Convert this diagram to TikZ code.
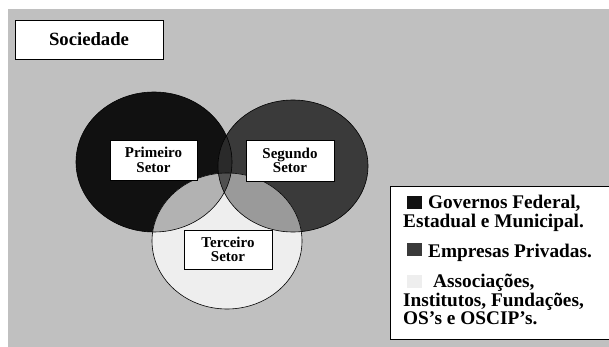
\documentclass[tikz,border=0pt]{standalone}
\usepackage{fontspec}
\setmainfont{Liberation Serif}
\definecolor{bg}{HTML}{C0C0C0}
\definecolor{cone}{HTML}{111111}
\definecolor{ctwo}{HTML}{3A3A3A}
\definecolor{cthree}{HTML}{EEEEEE}
\definecolor{conetwo}{HTML}{2A2A2A}
\definecolor{conethree}{HTML}{B2B2B2}
\definecolor{ctwothree}{HTML}{9A9A9A}
\definecolor{call}{HTML}{505050}
\begin{document}
\begin{tikzpicture}[x=1pt,y=-1pt,
  labelbox/.style={draw=black,line width=0.8pt,fill=white,inner sep=0pt,align=center,
    font=\fontsize{15}{14.5}\selectfont\bfseries},
  legtext/.style={anchor=base west,inner sep=0pt,font=\fontsize{19.3}{19}\selectfont\bfseries},
  legsq/.style={anchor=north west,inner sep=0pt,minimum width=15pt,minimum height=13pt,draw=none},
  ring/.style={draw=black,line width=0.6pt}]
\useasboundingbox (0,0) rectangle (609,347);
\clip (0,0) rectangle (609,347);
\fill[white] (0,0) rectangle (609,347);
\fill[bg] (8,9) rectangle (612,350);
\def\eone{(154,162) ellipse [x radius=78pt, y radius=70pt]}
\def\etwo{(293,166) ellipse [x radius=75pt, y radius=66pt]}
\def\ethree{(227,241) ellipse [x radius=75pt, y radius=68pt]}
\fill[cone] \eone;
\fill[ctwo] \etwo;
\fill[cthree] \ethree;
\begin{scope}
  \clip \eone;
  \fill[conetwo] \etwo;
  \fill[conethree] \ethree;
\end{scope}
\begin{scope}
  \clip \etwo;
  \clip \ethree;
  \fill[ctwothree] \etwo;
\end{scope}
\begin{scope}
  \clip \eone; \clip \etwo; \clip \ethree;
  \fill[call] (0,0) rectangle (609,347);
\end{scope}
\draw[ring] \eone;
\draw[ring] \etwo;
\draw[ring] \ethree;
\node[labelbox,minimum width=148pt,minimum height=39pt,font=\fontsize{18.7}{18}\selectfont\bfseries] (soc) at (89,39.5) {Sociedade};
\node[labelbox,minimum width=87pt,minimum height=40pt] (prim) at (153.5,160) {Primeiro\\Setor};
\node[labelbox,minimum width=88pt,minimum height=41pt] (seg) at (290,160.5) {Segundo\\Setor};
\node[labelbox,minimum width=88pt,minimum height=39pt] (ter) at (228,249.5) {Terceiro\\Setor};
\draw[black,line width=0.8pt,fill=white] (390,186) rectangle (615,339);
\node[legsq,fill=cone] (sqa) at (407,196) {};
\node[legsq,fill=ctwo] (sqb) at (407,243) {};
\node[legsq,fill=cthree] (sqc) at (407,275) {};
\node[legtext] (la) at (428,208) {Governos Federal,};
\node[legtext] (lb) at (403,227) {Estadual e Municipal.};
\node[legtext] (lc) at (428,257) {Empresas Privadas.};
\node[legtext] (ld) at (433,287) {Associações,};
\node[legtext] (le) at (403,306) {Institutos, Fundações,};
\node[legtext] (lf) at (403,324) {OS’s e OSCIP’s.};
\end{tikzpicture}
\end{document}
